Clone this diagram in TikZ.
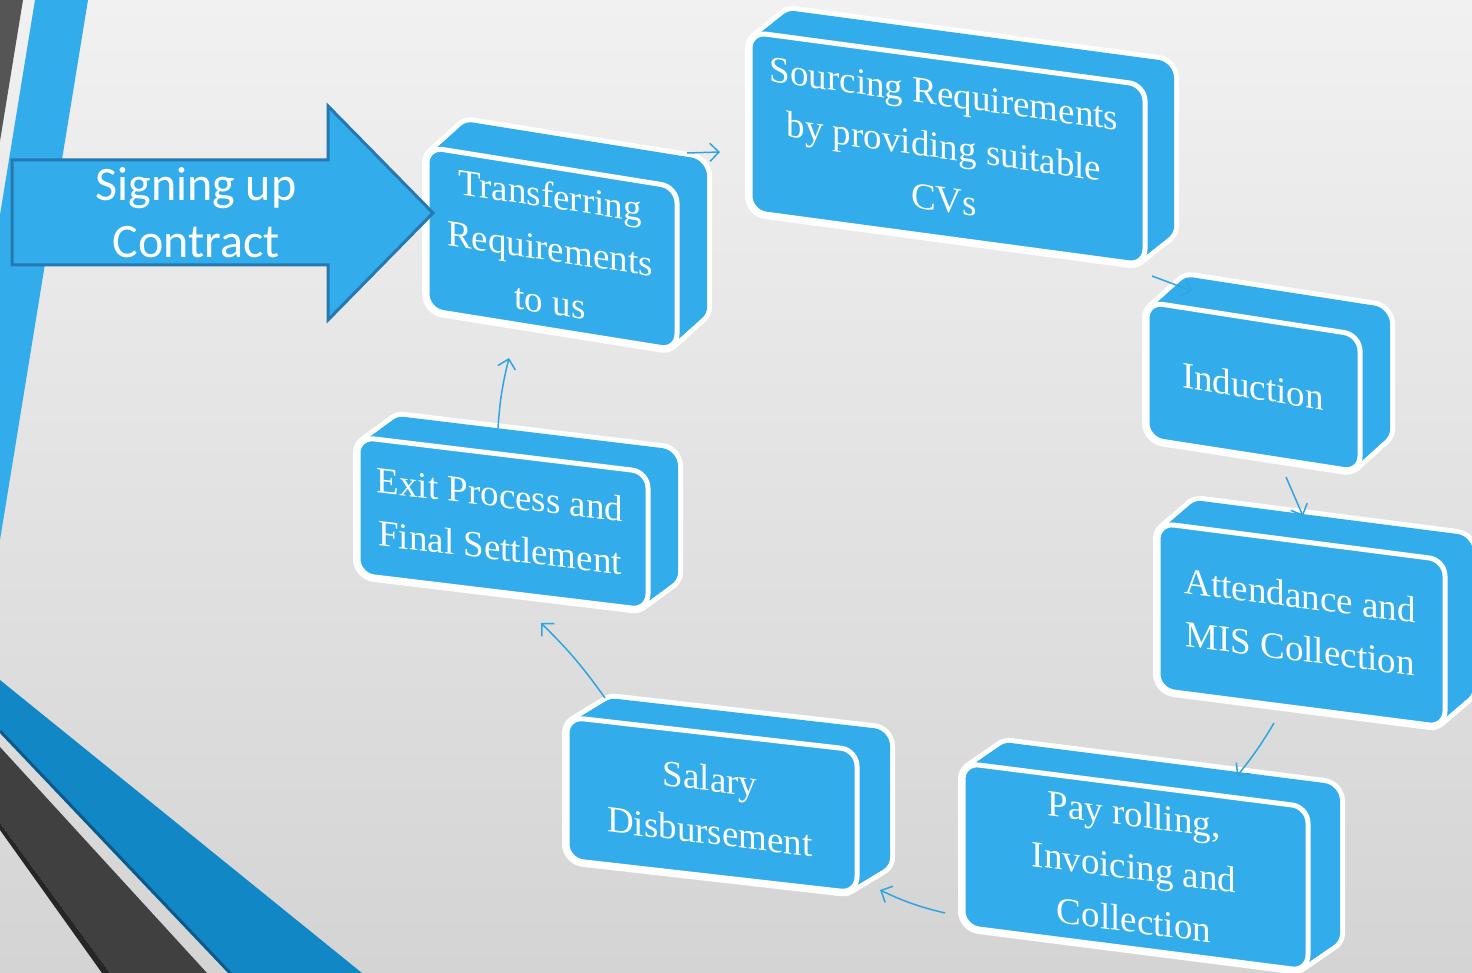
\documentclass[tikz,border=0pt]{standalone}
\usepackage{fontspec}
\setmainfont{Liberation Serif}
\newfontfamily\arrowfont{Carlito}
\usetikzlibrary{arrows.meta,calc}
\definecolor{boxblue}{HTML}{32ACEA}
\definecolor{arrowedge}{HTML}{2579B0}
\definecolor{linkblue}{HTML}{2FA4E0}
\definecolor{bandblue}{HTML}{1287C5}
\definecolor{bandshadow}{HTML}{0B5A8A}
\definecolor{banddark}{HTML}{404040}
\definecolor{topdark}{HTML}{555555}
\definecolor{bgtop}{HTML}{F1F1F1}
\definecolor{bgbot}{HTML}{D4D4D4}
\tikzset{
  boxtext/.style={text=white, font=\fontsize{37}{53}\selectfont, align=center, inner sep=0pt},
  link/.style={draw=linkblue, line width=1.5pt, -{Straight Barb[length=9pt,width=18pt,line width=1.5pt]}},
}
% #1 x, #2 y (front top-left), #3 width, #4 height, #5 drop of top edge, #6 ox, #7 oy (depth offset)
\newcommand\slabbox[7]{%
  \foreach \i in {0,...,20}{
    \draw[white,line width=10pt,rounded corners=16pt,shift={({\i/20*#6},{\i/20*#7})}]
      (#1,#2) -- ({#1+#3},{#2+#5}) -- ({#1+#3},{#2+#5+#4}) -- (#1,{#2+#4}) -- cycle;}
  \foreach \i in {0,...,20}{
    \fill[boxblue,rounded corners=16pt,shift={({\i/20*#6},{\i/20*#7})}]
      (#1,#2) -- ({#1+#3},{#2+#5}) -- ({#1+#3},{#2+#5+#4}) -- (#1,{#2+#4}) -- cycle;}
  \draw[white,fill=boxblue,line width=5pt,rounded corners=16pt]
      (#1,#2) -- ({#1+#3},{#2+#5}) -- ({#1+#3},{#2+#5+#4}) -- (#1,{#2+#4}) -- cycle;
}
\begin{document}
\begin{tikzpicture}[x=1pt,y=-1pt]
\useasboundingbox (0,0) rectangle (1472,973);
\clip (0,0) rectangle (1472,973);
\shade[top color=bgtop, bottom color=bgbot] (0,0) rectangle (1472,973);
% top-left decoration
\fill[topdark] (0,0) -- (23,0) -- (0,141) -- cycle;
\fill[boxblue] (35,0) -- (88,0) -- (0,540) -- (0,215) -- cycle;
% bottom-left decoration
\fill[bandblue] (0,680) -- (362,973) -- (232,973) -- (0,730) -- cycle;
\draw[bandshadow,line width=3pt] (0,731) -- (232,975);
\fill[banddark] (0,747) -- (207,973) -- (110,973) -- (0,823) -- cycle;
\fill[black!85] (0,823) -- (110,973) -- (102,973) -- (0,830) -- cycle;
% boxes
\slabbox{427}{147}{250}{163}{40}{30}{-27}
\slabbox{750}{32}{395}{180}{53}{29}{-23}
\slabbox{1147}{302}{213}{137}{33}{30}{-27}
\slabbox{1158}{523}{287}{167}{37}{28}{-24}
\slabbox{963}{763}{345}{164}{44}{32}{-22}
\slabbox{567}{717}{290}{143}{33}{33}{-20}
\slabbox{358}{437}{290}{138}{35}{30}{-22}
% connectors
\coordinate (c1a) at (687,153); \coordinate (c1b) at (720,152);
\coordinate (c2a) at (1152,276); \coordinate (c2b) at (1192,291);
\coordinate (c3a) at (1286,477); \coordinate (c3b) at (1303,516);
\coordinate (c4a) at (1274,723); \coordinate (c4b) at (1237,776);
\coordinate (c5a) at (945,913); \coordinate (c5b) at (880,890);
\coordinate (c6a) at (605,698); \coordinate (c6b) at (541,623);
\coordinate (c7a) at (498,428); \coordinate (c7b) at (509,358);
\draw[link] (c1a) -- (c1b);
\draw[link] (c2a) -- (c2b);
\draw[link] (c3a) -- (c3b);
\draw[link] (c4a) to[bend left=4] (c4b);
\draw[link] (c5a) to[bend left=6] (c5b);
\draw[link] (c6a) to[bend right=5] (c6b);
\draw[link] (c7a) to[bend left=5] (c7b);
% box texts
\node[boxtext, yslant=-0.15] (t1) at (550,248) {Transferring\\Requirements\\to us};
\node[boxtext, yslant=-0.14] (t2) at (944,147) {Sourcing Requirements\\by providing suitable\\CVs};
\node[boxtext, yslant=-0.16] (t3) at (1253,386) {Induction};
\node[boxtext, yslant=-0.13] (t4) at (1300,622) {Attendance and\\MIS Collection};
\node[boxtext, yslant=-0.13] (t5) at (1134,867) {Pay rolling,\\Invoicing and\\Collection};
\node[boxtext, yslant=-0.12] (t6) at (710,805) {Salary\\Disbursement};
\node[boxtext, yslant=-0.12] (t7) at (500,521) {Exit Process and\\Final Settlement};
% signing arrow
\draw[fill=boxblue, draw=arrowedge, line width=3pt]
  (12,160) -- (328,160) -- (328,106) -- (433,213) -- (328,320) -- (328,265) -- (12,265) -- cycle;
\node[text=white, font=\arrowfont\fontsize{48}{57}\selectfont, align=center, inner sep=0pt] (sign) at (196,213) {Signing up\\Contract};
\end{tikzpicture}
\end{document}
